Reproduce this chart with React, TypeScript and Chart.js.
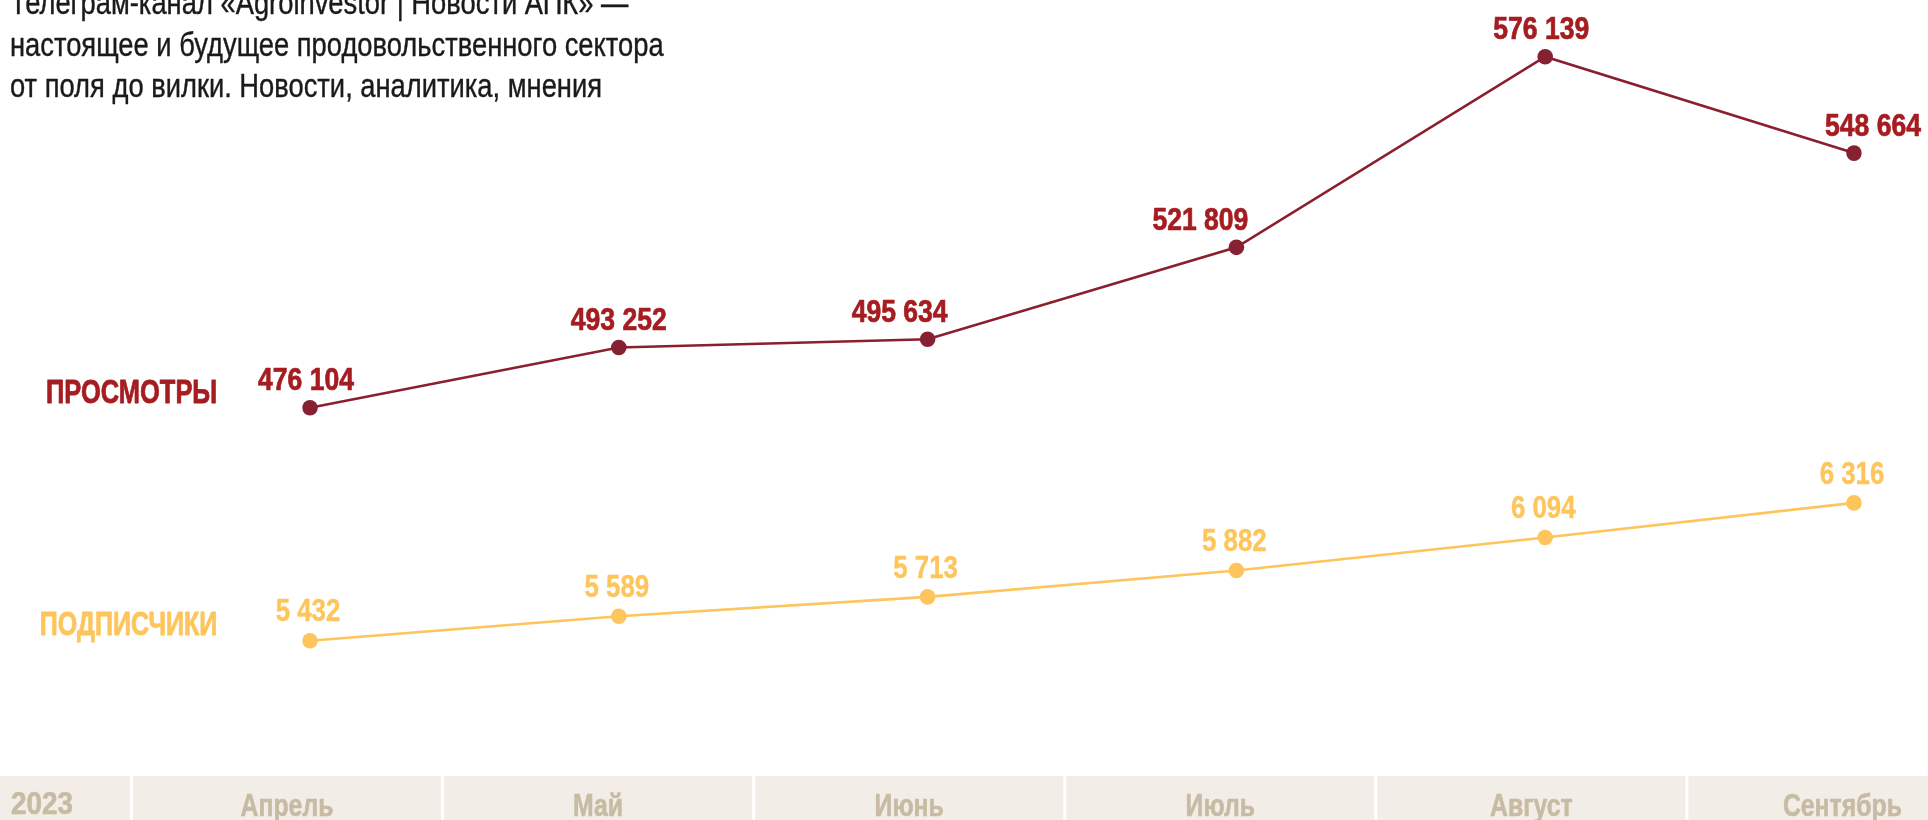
import React, { useEffect, useRef } from "react";
import { Chart, registerables } from "chart.js";

Chart.register(...registerables);

const months = ["Апрель", "Май", "Июнь", "Июль", "Август", "Сентябрь"];
const yearLabel = "2023";
const views = [476104, 493252, 495634, 521809, 576139, 548664];
const subscribers = [5432, 5589, 5713, 5882, 6094, 6316];
const viewsName = "ПРОСМОТРЫ";
const subsName = "ПОДПИСЧИКИ";
const titleLines = [
  "Телеграм-канал «Agroinvestor | Новости АПК» —",
  "настоящее и будущее продовольственного сектора",
  "от поля до вилки. Новости, аналитика, мнения",
];
const viewsRange = [371150, 592300];
const subsRange = [4564, 9542];

const FONT = '"Liberation Sans", Arial, sans-serif';
const VIEWS_LINE = "#8A1F2E";
const VIEWS_POINT = "#852131";
const VIEWS_TEXT = "#A51C21";
const SUBS = "#FDC55C";
const BAND = "#F2EDE7";
const BAND_TEXT = "#C8BBA4";
const TITLE = "#1a1a1a";

const viewsLabelDx = [-4, 0, -28, -36, -4, 19];

const fmt = (v: number) => String(v).replace(/\B(?=(\d{3})+(?!\d))/g, " ");

function sq(ctx: any, text: string, x: number, y: number, align: string, sx: number, stroke = 0) {
  const w = ctx.measureText(text).width * sx;
  const left = align === "center" ? x - w / 2 : align === "right" ? x - w : x;
  ctx.save();
  ctx.translate(left, y);
  ctx.scale(sx, 1);
  ctx.textAlign = "left";
  ctx.textBaseline = "alphabetic";
  ctx.fillText(text, 0, 0);
  if (stroke > 0) {
    ctx.strokeStyle = ctx.fillStyle;
    ctx.lineWidth = stroke;
    ctx.lineJoin = "round";
    ctx.strokeText(text, 0, 0);
  }
  ctx.restore();
}

const decor = {
  id: "decor",
  beforeDraw(chart: any) {
    const { ctx, width, height } = chart;
    const x = chart.scales.x;
    ctx.save();
    ctx.fillStyle = "#ffffff";
    ctx.fillRect(0, 0, width, height);

    // title
    ctx.fillStyle = TITLE;
    ctx.font = `33px ${FONT}`;
    const tsx = 592 / ctx.measureText(titleLines[2]).width;
    titleLines.forEach((l, i) => sq(ctx, l, 10, 14 + i * 41.5, "left", tsx, 0.4));

    // month band
    const top = chart.chartArea.bottom;
    ctx.fillStyle = BAND;
    ctx.fillRect(0, top, width, height - top);
    const step = x.getPixelForValue(1) - x.getPixelForValue(0);
    const cellStep = step * 1.0074;
    const c0 = x.getPixelForValue(0) - 23;
    ctx.fillStyle = "#ffffff";
    for (let i = 0; i < months.length; i++) {
      const bx = c0 + i * cellStep - cellStep / 2;
      ctx.fillRect(bx - 1.5, top, 3, height - top);
    }
    ctx.fillStyle = BAND_TEXT;
    ctx.font = `bold 31px ${FONT}`;
    const labels = x.getLabels();
    labels.forEach((lab: string, i: number) => {
      sq(ctx, lab, c0 + i * cellStep, top + 39.5, "center", 0.8, 0.6);
    });
    sq(ctx, yearLabel, 11, top + 38, "left", 0.9, 0.6);
    ctx.restore();
  },
  afterDatasetsDraw(chart: any) {
    const { ctx } = chart;
    ctx.save();
    const m0 = chart.getDatasetMeta(0);
    const m1 = chart.getDatasetMeta(1);
    const nameX = chart.chartArea.left - 92.7;
    ctx.font = `bold 33.5px ${FONT}`;
    ctx.fillStyle = VIEWS_TEXT;
    sq(ctx, viewsName, nameX, m0.data[0].y - 4.7, "right", 0.76, 0.8);
    ctx.fillStyle = SUBS;
    sq(ctx, subsName, nameX, m1.data[0].y - 5.7, "right", 0.748, 0.8);

    ctx.font = `bold 30.5px ${FONT}`;
    ctx.fillStyle = VIEWS_TEXT;
    m0.data.forEach((p: any, i: number) => {
      sq(ctx, fmt(views[i]), p.x + viewsLabelDx[i], p.y - 17.3, "center", 0.87, 0.7);
    });
    ctx.font = `bold 31.5px ${FONT}`;
    ctx.fillStyle = SUBS;
    m1.data.forEach((p: any, i: number) => {
      sq(ctx, fmt(subscribers[i]), p.x - 2, p.y - 19.3, "center", 0.82, 0.4);
    });
    ctx.restore();
  },
};

export default function App() {
  const ref = useRef<HTMLCanvasElement | null>(null);
  useEffect(() => {
    document.body.style.margin = "0";
    const canvas = ref.current!;
    const chart = new Chart(canvas, {
      type: "line",
      data: {
        labels: months,
        datasets: [
          {
            label: viewsName,
            data: views,
            yAxisID: "y",
            borderColor: VIEWS_LINE,
            borderWidth: 2.6,
            pointRadius: 7.8,
            pointBackgroundColor: VIEWS_POINT,
            pointBorderWidth: 0,
            tension: 0,
          },
          {
            label: subsName,
            data: subscribers,
            yAxisID: "y1",
            borderColor: SUBS,
            borderWidth: 2.6,
            pointRadius: 7.8,
            pointBackgroundColor: SUBS,
            pointBorderWidth: 0,
            tension: 0,
          },
        ],
      },
      options: {
        responsive: false,
        animation: false,
        devicePixelRatio: 1,
        layout: { autoPadding: false, padding: { left: 310, right: 74, top: 0, bottom: 44 } },
        plugins: { legend: { display: false }, tooltip: { enabled: false } },
        scales: {
          x: { display: false },
          y: { display: false, min: viewsRange[0], max: viewsRange[1] },
          y1: { display: false, min: subsRange[0], max: subsRange[1] },
        },
      } as any,
      plugins: [decor],
    });
    return () => chart.destroy();
  }, []);
  return (
    <div style={{ width: 1928, height: 820, overflow: "hidden", background: "#fff" }}>
      <canvas ref={ref} width={1928} height={820} style={{ display: "block" }} />
    </div>
  );
}
